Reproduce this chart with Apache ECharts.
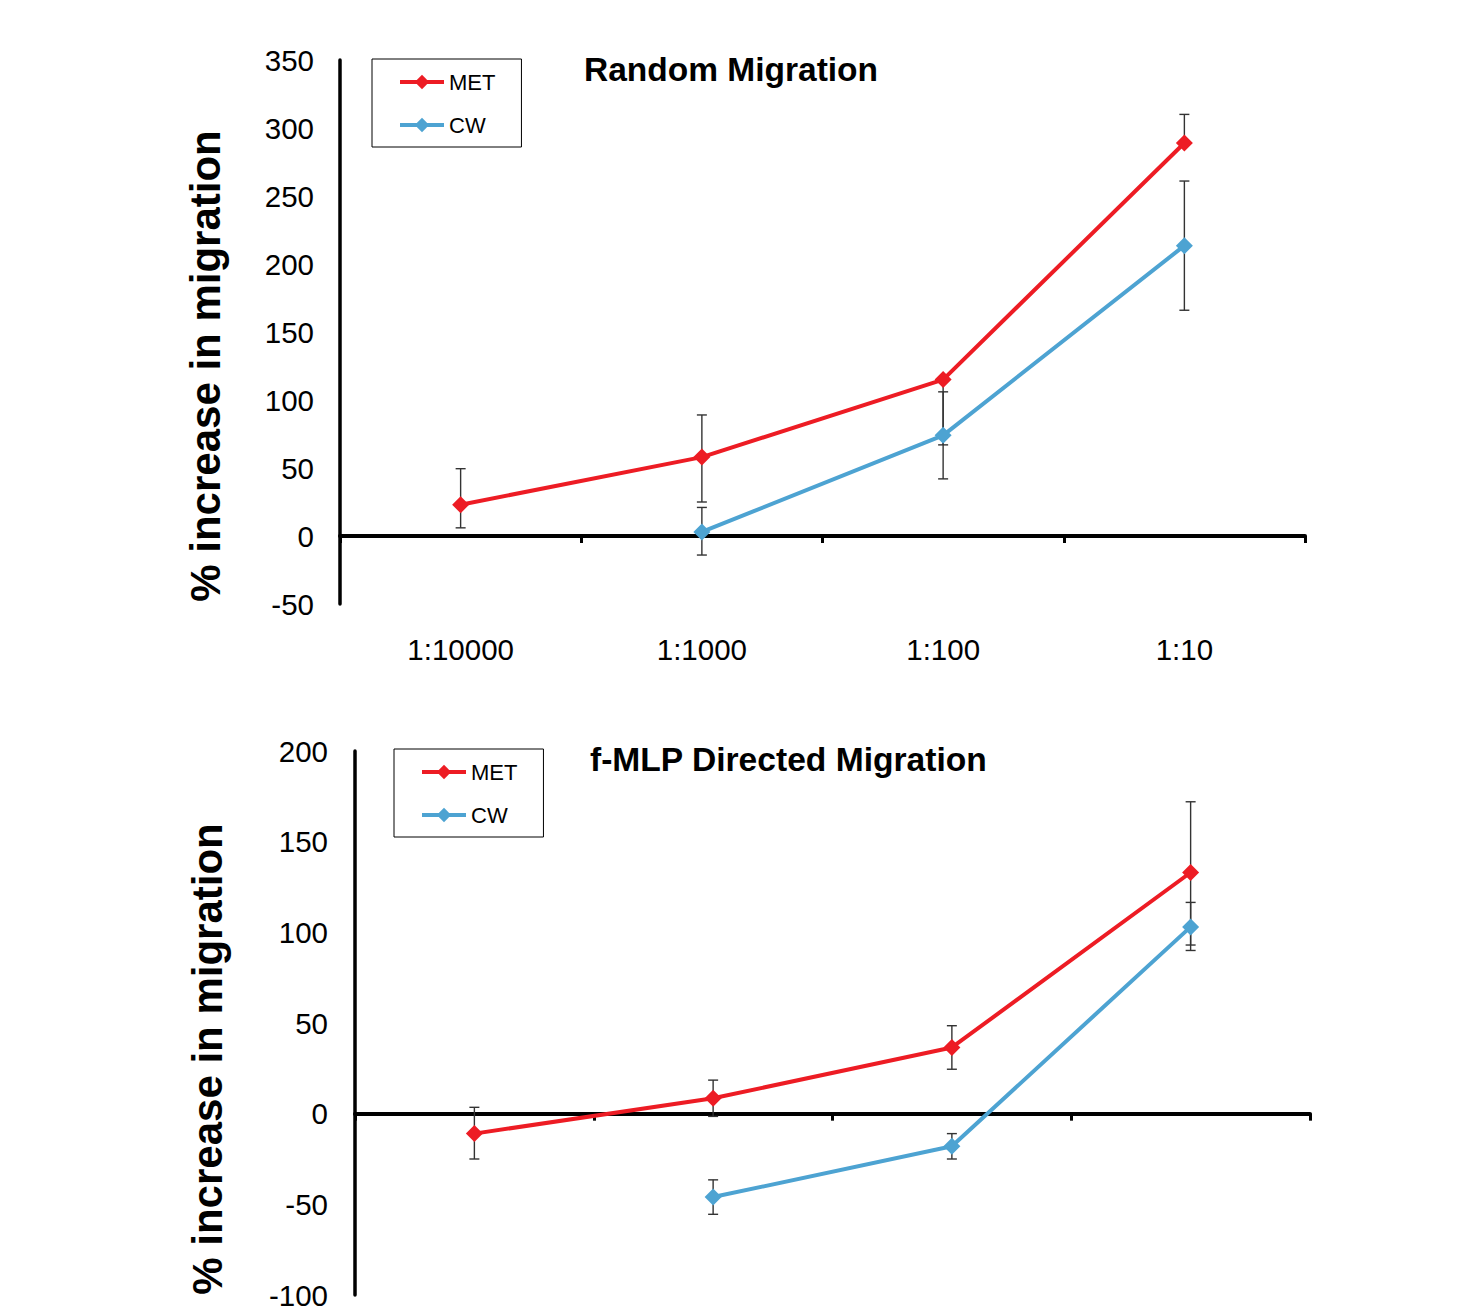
<!DOCTYPE html>
<html>
<head>
<meta charset="utf-8">
<script src="https://cdn.jsdelivr.net/npm/echarts@6/dist/echarts.min.js"></script>
<style>
  html, body { margin: 0; padding: 0; background: #fff; }
  #chart { width: 1477px; height: 1315px; }
</style>
</head>
<body>
<div id="chart"></div>
<script>
// Dilutions tested
const categories = ['1:10000', '1:1000', '1:100', '1:10'];

// Random migration (% increase) with error-bar bounds (null = no bar on that side)
const metRandom     = [23, 58, 115, 289];
const metRandomLow  = [6, 25, 67, null];
const metRandomHigh = [49.5, 89, null, 310];
const cwRandom      = [null, 3, 74, 213.5];
const cwRandomLow   = [null, -14, 42, 166];
const cwRandomHigh  = [null, 21, 106, 261];

// f-MLP directed migration (% increase) with error-bar bounds
const metDirected     = [-11, 8.5, 36.5, 133];
const metDirectedLow  = [-25, -1.5, 24.5, 93];
const metDirectedHigh = [3.5, 18.5, 48.5, 172];
const cwDirected      = [null, -46, -18, 103];
const cwDirectedLow   = [null, -55.5, -25, 90];
const cwDirectedHigh  = [null, -36.5, -11, 116.5];

// Axis ranges
const randomAxis   = { min: -50, max: 350, interval: 50 };
const directedAxis = { min: -100, max: 200, interval: 50 };

const RED = '#ED1C24';
const BLUE = '#4DA3D2';
const FONT = '"Liberation Sans", Arial, Helvetica, sans-serif';

// Build [index, low, high, value] items for the error-bar series
function errorItems(values, lows, highs) {
  const out = [];
  values.forEach((v, i) => {
    if (v == null) return;
    const lo = lows[i] == null ? v : lows[i];
    const hi = highs[i] == null ? v : highs[i];
    out.push([i, lo, hi, v]);
  });
  return out;
}

function renderErrorBar(params, api) {
  const i = api.value(0);
  const lo = api.value(1), hi = api.value(2), v = api.value(3);
  const pLo = api.coord([i, lo]);
  const pHi = api.coord([i, hi]);
  const half = 5;
  const style = { stroke: '#333', lineWidth: 1.4 };
  const children = [{
    type: 'line',
    shape: { x1: pLo[0], y1: pLo[1], x2: pHi[0], y2: pHi[1] },
    style: style
  }];
  if (lo !== v) children.push({ type: 'line', shape: { x1: pLo[0] - half, y1: pLo[1], x2: pLo[0] + half, y2: pLo[1] }, style: style });
  if (hi !== v) children.push({ type: 'line', shape: { x1: pHi[0] - half, y1: pHi[1], x2: pHi[0] + half, y2: pHi[1] }, style: style });
  return { type: 'group', children: children };
}

function lineSeries(name, data, color, xi, yi) {
  return {
    name: name, type: 'line', data: data,
    xAxisIndex: xi, yAxisIndex: yi,
    symbol: 'diamond', symbolSize: 17,
    lineStyle: { color: color, width: 4 },
    itemStyle: { color: color },
    z: 3, animation: false
  };
}

function errorSeries(name, items, xi, yi) {
  return {
    name: name, type: 'custom', data: items,
    xAxisIndex: xi, yAxisIndex: yi,
    renderItem: renderErrorBar,
    encode: { x: 0, y: [1, 2] },
    z: 1, animation: false, silent: true
  };
}

function zeroAxis(gridIndex) {
  return {
    gridIndex: gridIndex, type: 'category', data: categories, boundaryGap: true,
    axisLine: { onZero: true, lineStyle: { color: '#000', width: 4 } },
    axisTick: { show: true, length: 7, lineStyle: { color: '#000', width: 3 } },
    axisLabel: { show: false },
    splitLine: { show: false }
  };
}

function valueAxis(gridIndex, range, margin) {
  return {
    gridIndex: gridIndex, type: 'value',
    min: range.min, max: range.max, interval: range.interval,
    axisLine: { show: true, onZero: false, lineStyle: { color: '#000', width: 3.5 } },
    axisTick: { show: false },
    splitLine: { show: false },
    axisLabel: { color: '#000', fontSize: 29.5, fontFamily: FONT, margin: margin }
  };
}

function legendBox(left, top) {
  return {
    data: ['MET', 'CW'], orient: 'vertical', left: left, top: top,
    itemWidth: 44, itemHeight: 18, itemGap: 21,
    padding: [12, 26, 11, 26],
    borderColor: '#000', borderWidth: 1,
    lineStyle: { width: 4 },
    textStyle: { color: '#000', fontSize: 22, fontFamily: FONT },
    selectedMode: false
  };
}

function yTitle(x, y) {
  return {
    type: 'text', x: x, y: y, rotation: Math.PI / 2,
    style: {
      text: '% increase in migration', fill: '#000',
      font: 'bold 42px ' + FONT,
      align: 'center', verticalAlign: 'middle'
    }
  };
}

const chart = echarts.init(document.getElementById('chart'), null, { renderer: 'svg' });

chart.setOption({
  backgroundColor: '#fff',
  animation: false,
  title: [
    { text: 'Random Migration', left: 579, top: 47,
      textStyle: { color: '#000', fontSize: 33.5, fontWeight: 'bold', fontFamily: FONT } },
    { text: 'f-MLP Directed Migration', left: 585, top: 737,
      textStyle: { color: '#000', fontSize: 33.6, fontWeight: 'bold', fontFamily: FONT } }
  ],
  legend: [legendBox(372, 59), legendBox(394, 749)],
  grid: [
    { left: 340, top: 60, width: 965, height: 544 },
    { left: 355, top: 751, width: 955, height: 544 }
  ],
  xAxis: [
    zeroAxis(0),
    {
      gridIndex: 0, type: 'category', data: categories, position: 'bottom',
      axisLine: { show: false }, axisTick: { show: false }, splitLine: { show: false },
      axisLabel: { color: '#000', fontSize: 29.5, fontFamily: FONT, margin: 30 }
    },
    zeroAxis(1)
  ],
  yAxis: [valueAxis(0, randomAxis, 26), valueAxis(1, directedAxis, 27)],
  graphic: [yTitle(205, 366), yTitle(207, 1059)],
  series: [
    errorSeries('MET error', errorItems(metRandom, metRandomLow, metRandomHigh), 0, 0),
    errorSeries('CW error', errorItems(cwRandom, cwRandomLow, cwRandomHigh), 0, 0),
    lineSeries('MET', metRandom, RED, 0, 0),
    lineSeries('CW', cwRandom, BLUE, 0, 0),
    errorSeries('MET error', errorItems(metDirected, metDirectedLow, metDirectedHigh), 2, 1),
    errorSeries('CW error', errorItems(cwDirected, cwDirectedLow, cwDirectedHigh), 2, 1),
    lineSeries('MET', metDirected, RED, 2, 1),
    lineSeries('CW', cwDirected, BLUE, 2, 1)
  ]
});
</script>
</body>
</html>
